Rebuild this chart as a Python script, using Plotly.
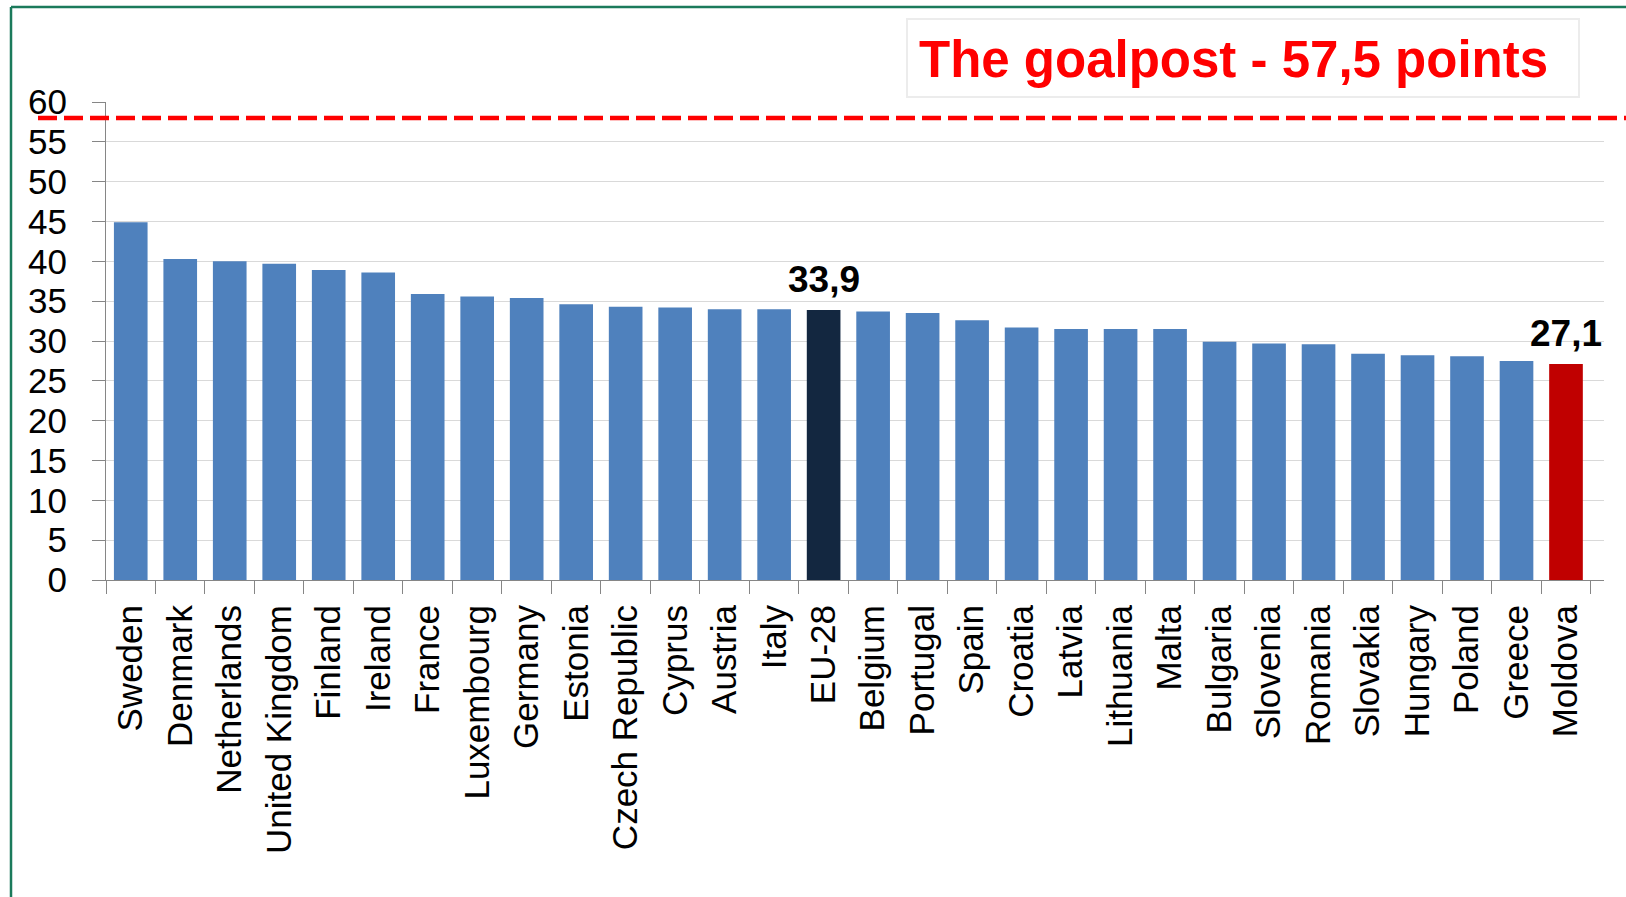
import plotly.graph_objects as go

# ---------------- data ----------------
countries = ["Sweden", "Denmark", "Netherlands", "United Kingdom", "Finland", "Ireland",
             "France", "Luxembourg", "Germany", "Estonia", "Czech Republic", "Cyprus",
             "Austria", "Italy", "EU-28", "Belgium", "Portugal", "Spain", "Croatia",
             "Latvia", "Lithuania", "Malta", "Bulgaria", "Slovenia", "Romania",
             "Slovakia", "Hungary", "Poland", "Greece", "Moldova"]
scores = [44.9, 40.3, 40.0, 39.7, 38.9, 38.6, 35.9, 35.6, 35.4, 34.6, 34.3, 34.2,
          34.0, 34.0, 33.9, 33.7, 33.5, 32.6, 31.7, 31.5, 31.5, 31.5, 29.9, 29.7,
          29.6, 28.4, 28.2, 28.1, 27.5, 27.1]
labelled = {"EU-28": "33,9", "Moldova": "27,1"}
goalpost = 58.0          # position of the dashed line as drawn
goal_text = "The goalpost - 57,5 points"
y_ticks = list(range(0, 61, 5))

# ---------------- style ----------------
W, H = 1626, 897
PL, PR, PT, PB = 106, 1604, 102, 580
BLUE, NAVY, RED = "#4f81bd", "#132740", "#c00000"
SANS = "Liberation Sans, Arial, sans-serif"

def px(x):
    return (x - PL) / (PR - PL)

def py(y):
    return (PB - y) / (PB - PT)

colors = [NAVY if c == "EU-28" else RED if c == "Moldova" else BLUE for c in countries]

fig = go.Figure(go.Bar(x=countries, y=scores, marker=dict(color=colors, line=dict(width=0)),
                       hoverinfo="x+y"))

fig.update_layout(
    width=W, height=H,
    margin=dict(l=PL, r=W - PR, t=PT, b=H - PB, autoexpand=False),
    paper_bgcolor="white", plot_bgcolor="white",
    bargap=0.32, showlegend=False,
    font=dict(family=SANS, color="black"),
)
fig.update_xaxes(
    type="category", tickmode="array", tickvals=countries, ticktext=countries,
    automargin=False,
    showline=True, linecolor="#868686", linewidth=1,
    ticks="outside", tickson="boundaries", ticklen=13, tickcolor="#868686",
    tickangle=-90, tickfont=dict(family=SANS, size=35, color="black"),
    ticklabelstandoff=10, showgrid=False,
)
fig.update_yaxes(
    range=[0, 60], tickmode="array", tickvals=y_ticks, ticktext=[str(v) for v in y_ticks],
    automargin=False,
    showline=True, linecolor="#868686", linewidth=1,
    ticks="outside", ticklen=13, tickcolor="#868686",
    tickfont=dict(family=SANS, size=35, color="black"),
    ticklabelstandoff=18,
    showgrid=True, gridcolor="#d9d9d9", gridwidth=1, zeroline=False,
)

shapes = [
    # goalpost dashed line
    dict(type="line", xref="paper", yref="y", x0=px(38), x1=px(1630), y0=goalpost, y1=goalpost,
         line=dict(color="#ff0000", width=4.5, dash="19px,7px"), layer="above"),
    # title box
    dict(type="rect", xref="paper", yref="paper", x0=px(907), x1=px(1579), y0=py(97), y1=py(19),
         line=dict(color="#ececec", width=2), fillcolor="white", layer="above"),
    # outer green frame (top and left)
    dict(type="line", xref="paper", yref="paper", x0=px(11), x1=px(1630), y0=py(7), y1=py(7),
         line=dict(color="#1b7a5b", width=2.5)),
    dict(type="line", xref="paper", yref="paper", x0=px(11), x1=px(11), y0=py(7), y1=py(900),
         line=dict(color="#1b7a5b", width=2.5)),
]

annotations = [
    dict(xref="paper", yref="paper", x=px(1233), y=py(59), text="<b>" + goal_text + "</b>",
         showarrow=False, xanchor="center", yanchor="middle",
         font=dict(family=SANS, size=51, color="#ff0000")),
]
for c, s in zip(countries, scores):
    if c in labelled:
        annotations.append(dict(x=c, y=s, xref="x", yref="y", text="<b>" + labelled[c] + "</b>",
                                showarrow=False, xanchor="center", yanchor="bottom", yshift=8,
                                font=dict(family=SANS, size=37, color="black")))

fig.update_layout(shapes=shapes, annotations=annotations)
fig.write_html("out.html")
